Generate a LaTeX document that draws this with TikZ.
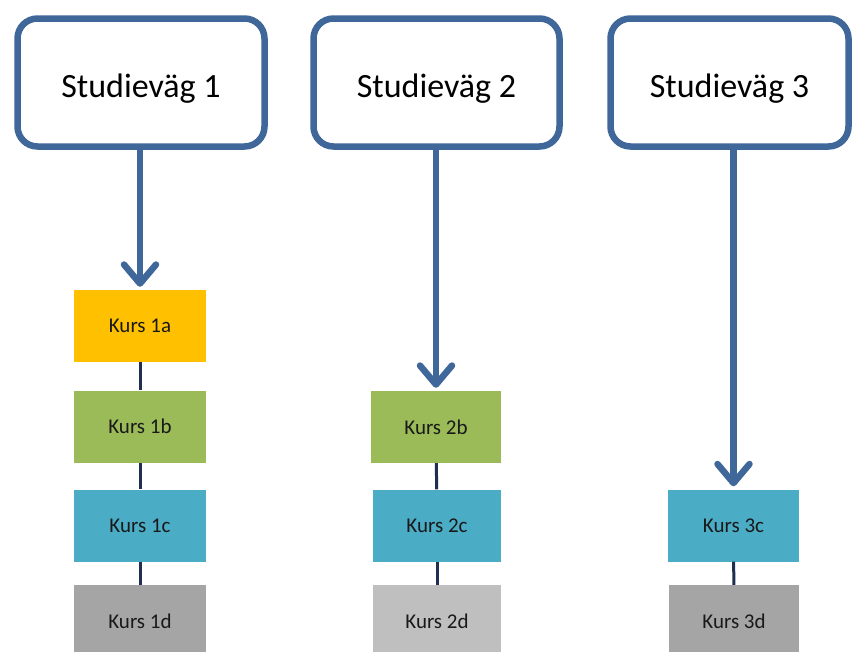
\documentclass[tikz,border=0pt]{standalone}
\usepackage{fontspec}
\setmainfont{Carlito}
\usetikzlibrary{arrows.meta}
\definecolor{boxblue}{HTML}{3F679A}
\definecolor{navy}{HTML}{1F2F4F}
\definecolor{korange}{HTML}{FFC000}
\definecolor{kgreen}{HTML}{9BBB59}
\definecolor{kblue}{HTML}{4BACC6}
\definecolor{kgray}{HTML}{A5A5A5}
\definecolor{klight}{HTML}{BFBFBF}
\begin{document}
\begin{tikzpicture}[x=1pt,y=-1pt,
  pathbox/.style={draw=boxblue,line width=6.5pt,rounded corners=20pt,fill=white,
    minimum height=128pt,font=\fontsize{34}{36}\selectfont,text=black,inner sep=0pt,
    text height=29pt,text depth=0pt},
  kurs/.style={minimum width=132pt,minimum height=72pt,inner sep=0pt,
    font=\fontsize{21}{24}\selectfont,text=black!90},
  bigarrow/.style={draw=boxblue,line width=6.5pt,
    -{Straight Barb[length=19pt,width=32pt,line cap=round,line join=round]},shorten >=3pt},
  link/.style={draw=navy,line width=3pt}]
\useasboundingbox[fill=white] (0,0) rectangle (854,651);
\node[pathbox,minimum width=247pt] (s1) at (141,82.5) {Studieväg 1};
\node[pathbox,minimum width=246pt] (s2) at (436.5,82.5) {Studieväg 2};
\node[pathbox,minimum width=238pt] (s3) at (729.5,82.5) {Studieväg 3};

\node[kurs,fill=korange] (k1a) at (140,326) {Kurs 1a};
\node[kurs,fill=kgreen]  (k1b) at (140,426.5) {Kurs 1b};
\node[kurs,fill=kblue]   (k1c) at (140,525.5) {Kurs 1c};
\node[kurs,fill=kgray]   (k1d) at (140,621) {Kurs 1d};

\node[kurs,fill=kgreen,minimum width=130pt] (k2b) at (436,427) {Kurs 2b};
\node[kurs,fill=kblue,minimum width=128pt]  (k2c) at (437,525.5) {Kurs 2c};
\node[kurs,fill=klight,minimum width=128pt] (k2d) at (437,621) {Kurs 2d};

\node[kurs,fill=kblue,minimum width=131pt] (k3c) at (733.5,525.5) {Kurs 3c};
\node[kurs,fill=kgray,minimum width=130pt] (k3d) at (734,621) {Kurs 3d};

\draw[link] (k1a) -- (k1b);
\draw[link] (k1b) -- (k1c);
\draw[link] (k1c) -- (k1d);
\draw[link] (k2b) -- (k2c);
\draw[link] (k2c) -- (k2d);
\draw[link] (k3c) -- (k3d);

\draw[bigarrow] (s1.south -| k1a.north) -- (k1a.north);
\draw[bigarrow] (s2.south -| k2b.north) -- (k2b.north);
\draw[bigarrow] (s3.south -| k3c.north) -- (k3c.north);
\end{tikzpicture}
\end{document}
